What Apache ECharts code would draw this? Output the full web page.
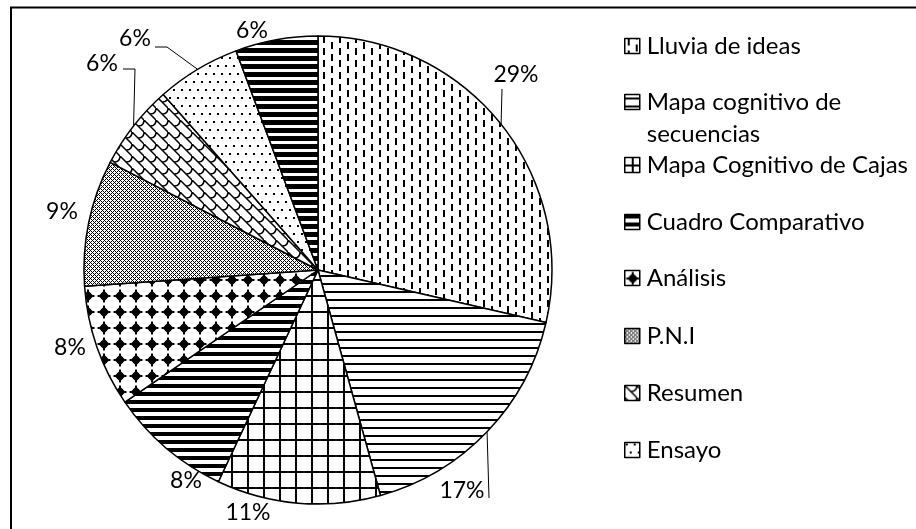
<!DOCTYPE html>
<html>
<head>
<meta charset="utf-8">
<script src="https://cdn.jsdelivr.net/npm/echarts@6/dist/echarts.min.js"></script>
<style>html,body{margin:0;padding:0;background:#fff;}#c{width:916px;height:529px;}</style>
</head>
<body>
<div id="c"></div>
<script>
// ---- data ----
const categories = ['Lluvia de ideas','Mapa cognitivo de secuencias','Mapa Cognitivo de Cajas','Cuadro Comparativo','Análisis','P.N.I','Resumen','Ensayo','Otros'];
const values = [28.6, 17.1, 11.3, 8.45, 8.45, 8.7, 5.9, 5.8, 5.7];
const legendNames = ['Lluvia de ideas','Mapa cognitivo de secuencias','Mapa Cognitivo de Cajas','Cuadro Comparativo','Análisis','P.N.I','Resumen','Ensayo'];

// ---- layout (label / legend placement) ----
const labelCenters = [[516,75],[462,491],[248,513],[186,481],[70,348],[62,212],[102,64],[135,39],[252,31]];
const leaderTails = [[[502,89]],[[489,498]],null,null,null,null,[[135,69],[123,69]],[[167,47],[155,47]],null];
const legendCenterY = [46,102,165,222,278,336,393,450];
const FONT = 'Lato';

// ---- patterns ----
function mk(w,h,draw){const c=document.createElement('canvas');c.width=w;c.height=h;const g=c.getContext('2d');g.fillStyle='#fff';g.fillRect(0,0,w,h);g.fillStyle='#000';g.strokeStyle='#000';draw(g,w,h);return {image:c,repeat:'repeat'};}
const patterns = [
  mk(16,12,g=>{g.fillRect(3,0,2,7);g.fillRect(11,6,2,6);g.fillRect(11,0,2,1);}),
  mk(8,8,g=>{g.fillRect(0,3,8,2);}),
  mk(16,16,g=>{g.fillRect(0,7,16,2);g.fillRect(7,0,2,16);}),
  mk(8,8,g=>{g.fillRect(0,0,8,4);}),
  mk(16,16,g=>{g.beginPath();g.moveTo(8,2.5);g.lineTo(13.5,8);g.lineTo(8,13.5);g.lineTo(2.5,8);g.closePath();g.fill();g.fillRect(7,1.5,2,13);g.fillRect(1.5,7,13,2);g.fillRect(5,5,6,6);}),
  mk(4,4,g=>{for(let x=0;x<4;x++)for(let y=0;y<4;y++){if((x+y)%4===0||((x-y+4)%4)===0)g.fillRect(x,y,1,1);}}),
  mk(12,12,g=>{g.lineWidth=1.5;g.beginPath();g.moveTo(-1,-1);g.lineTo(13,13);g.moveTo(6,6);g.quadraticCurveTo(12,6,12,0);g.moveTo(-6,6);g.quadraticCurveTo(0,6,0,0);g.moveTo(6,18);g.quadraticCurveTo(12,18,12,12);g.stroke();}),
  mk(8,16,g=>{g.fillRect(1,1,2,2);g.fillRect(5,9,2,2);}),
  mk(8,8,g=>{g.fillRect(0,0,8,5);})
];

const chart = echarts.init(document.getElementById('c'), null, {renderer:'canvas'});
const legends = legendNames.map((n,i)=>{
  const two = n === 'Mapa cognitivo de secuencias';
  const lh = two ? 32 : 30;
  const h = two ? lh*3 : lh;
  return {
    data:[{name:n, icon:'rect'}], orient:'vertical', left:624, top: legendCenterY[i] - h/2, padding:0,
    selectedMode:false, itemWidth:15, itemHeight:15, itemGap:0,
    itemStyle:{borderColor:'#000', borderWidth:1.5},
    formatter: two ? ' \nMapa cognitivo de\nsecuencias' : '{name}',
    textStyle:{fontFamily:FONT, fontSize:24, color:'#000', lineHeight:lh, padding:[0,0,0,2]}
  };
});

chart.setOption({
  animation:false,
  backgroundColor:'#fff',
  legend: legends,
  graphic:[{type:'rect', shape:{x:11, y:7.5, width:1000, height:700}, style:{fill:'none', stroke:'#000', lineWidth:2}}],
  series:[{
    type:'pie', center:[318,270], radius:234, startAngle:90, clockwise:true,
    percentPrecision:0, avoidLabelOverlap:false,
    itemStyle:{borderColor:'#000', borderWidth:1.5},
    emphasis:{disabled:true},
    label:{show:true, position:'outside', formatter:'{d}%', fontFamily:FONT, fontSize:23, color:'#000'},
    labelLine:{show:true, length:10, length2:5, lineStyle:{color:'#000', width:1}},
    labelLayout:function(p){
      const i=p.dataIndex, c=labelCenters[i], t=leaderTails[i];
      const o={x:c[0], y:c[1], align:'center', verticalAlign:'middle'};
      if(t && p.labelLinePoints){ o.labelLinePoints=[p.labelLinePoints[0]].concat(t); }
      return o;
    },
    data: categories.map((n,i)=>({name:n, value:values[i], itemStyle:{color:patterns[i]}, labelLine:{show:!!leaderTails[i]}}))
  }]
});
</script>
</body>
</html>
